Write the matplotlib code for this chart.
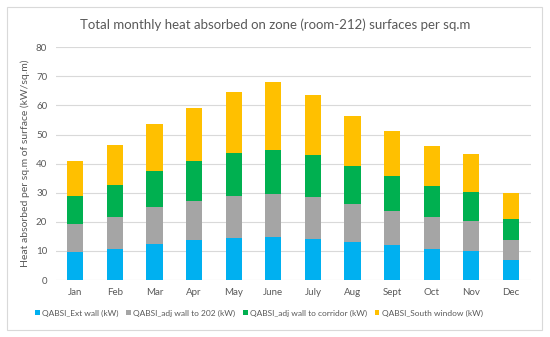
import matplotlib
matplotlib.use("Agg")
import matplotlib.pyplot as plt
import numpy as np
from matplotlib.patches import Rectangle

months = ["Jan", "Feb", "Mar", "Apr", "May", "June", "July", "Aug", "Sept", "Oct", "Nov", "Dec"]
ext_wall = [9.6, 10.8, 12.5, 13.7, 14.3, 14.9, 14.1, 13.1, 11.9, 10.7, 10.1, 7.0]
adj_202 = [9.7, 10.7, 12.5, 13.4, 14.5, 14.8, 14.3, 13.0, 11.8, 10.8, 10.3, 6.9]
adj_corridor = [9.6, 11.0, 12.5, 13.9, 14.7, 15.1, 14.4, 13.0, 12.0, 10.9, 9.9, 7.2]
south_window = [11.9, 13.8, 16.2, 18.1, 21.0, 23.2, 20.9, 17.3, 15.6, 13.8, 13.0, 8.7]

series = [
    ("QABSI_Ext wall (kW)", ext_wall, "#00B0F0"),
    ("QABSI_adj wall to 202 (kW)", adj_202, "#A5A5A5"),
    ("QABSI_adj wall to corridor (kW)", adj_corridor, "#00B050"),
    ("QABSI_South window (kW)", south_window, "#FFC000"),
]

plt.rcParams['font.family'] = ['Lato', 'DejaVu Sans']
fig = plt.figure(figsize=(5.5, 3.37), dpi=100)
fig.patches.append(Rectangle((7/550, 1-330/337), (542-7)/550, (330-7)/337,
                             transform=fig.transFigure, fill=False,
                             edgecolor="#D9D9D9", linewidth=0.8))
ax = fig.add_axes([0.101, 0.169, 0.864, 0.691])

x = np.arange(len(months))
bottom = np.zeros(len(months))
for label, vals, color in series:
    ax.bar(x, vals, width=0.41, bottom=bottom, color=color, label=label, zorder=3)
    bottom += np.array(vals)

ax.set_xlim(-0.5, len(months) - 0.5)
ax.set_ylim(0, 80)
ax.set_yticks(range(0, 81, 10))
ax.set_xticks(x)
ax.set_xticklabels(months)
ax.grid(axis='y', color="#D9D9D9", linewidth=0.8, zorder=0)
for s in ax.spines.values():
    s.set_visible(False)
ax.tick_params(axis='both', length=0, labelsize=7, labelcolor="#595959", pad=6)
ax.set_ylabel("Heat absorbed per sq.m of surface (kW/sq.m)", fontsize=7.5, color="#595959", labelpad=4)

fig.text(0.5, 1 - 25/337, "Total monthly heat absorbed on zone (room-212) surfaces per sq.m",
         ha='center', va='center', fontsize=9.5, color="#595959")

ax.legend(loc='center', bbox_to_anchor=(0.428, (1 - 313/337 - 0.169) / 0.691),
          ncol=4, frameon=False, fontsize=6.0, labelcolor="#595959",
          handlelength=0.55, handleheight=0.55, handletextpad=0.3, columnspacing=0.9)

fig.savefig("out.png", dpi=100)
